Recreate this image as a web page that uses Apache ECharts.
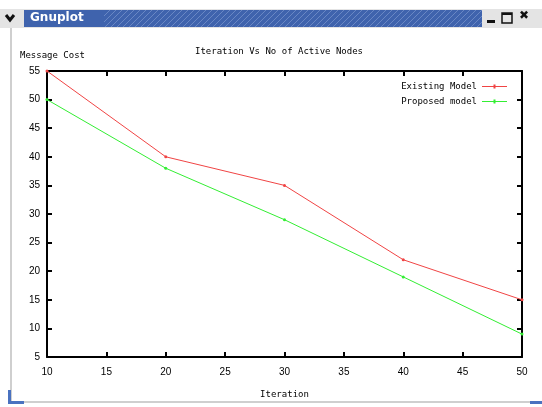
<!DOCTYPE html>
<html>
<head>
<meta charset="utf-8">
<script src="https://cdn.jsdelivr.net/npm/echarts@6/dist/echarts.min.js"></script>
<style>
html,body{margin:0;padding:0;background:#fff;}
#c{width:542px;height:407px;}
</style>
</head>
<body>
<div id="c"></div>
<script>
const iterations = [10, 20, 30, 40, 50];
const existingModel = [55, 40, 35, 22, 15];
const proposedModel = [50, 38, 29, 19, 9];
const titleText = 'Iteration Vs No of Active Nodes';
const xName = 'Iteration';
const yName = 'Message Cost';

// hatch pattern for the window title bar
const pc = document.createElement('canvas');
pc.width = 6; pc.height = 18;
const g = pc.getContext('2d');
g.fillStyle = '#3f63ad'; g.fillRect(0,0,6,18);
g.strokeStyle = 'rgba(140,165,215,0.55)'; g.lineWidth = 1;
for (let k=-18;k<24;k+=6){ g.beginPath(); g.moveTo(k,18); g.lineTo(k+18,0); g.stroke(); }

const chart = echarts.init(document.getElementById('c'));
const mono = 'DejaVu Sans Mono';
const axisLine = {show:true, lineStyle:{color:'#000', width:2}};
const ticks = {show:true, inside:true, length:5, lineStyle:{color:'#000', width:2}};
const legendIcon = 'path://M0,4L25,4L25,5L0,5Z M11.5,2.5L13.5,2.5L13.5,6.5L11.5,6.5Z';
chart.setOption({
  animation:false,
  backgroundColor:'#fff',
  title:{text:titleText, left:274, top:42, textAlign:'center',
    textStyle:{fontFamily:mono, fontSize:9, fontWeight:'normal', color:'#000'}},
  legend:{right:30, top:77, orient:'vertical', align:'right', itemWidth:25, itemHeight:8, itemGap:6,
    icon:legendIcon,
    textStyle:{fontFamily:mono, fontSize:9, color:'#000'},
    data:['Existing Model','Proposed model']},
  grid:{left:47, right:20, top:71, bottom:50},
  xAxis:[{type:'value', min:10, max:50, interval:5, position:'bottom',
    name:xName, nameLocation:'middle', nameGap:33,
    nameTextStyle:{fontFamily:mono, fontSize:9, color:'#000'},
    axisLine:axisLine, axisTick:ticks, splitLine:{show:false},
    axisLabel:{fontFamily:'Liberation Sans', fontSize:10, color:'#000', margin:10}},
    {type:'value', min:10, max:50, interval:5, position:'top',
    axisLine:axisLine, axisTick:ticks, splitLine:{show:false}, axisLabel:{show:false}}],
  yAxis:[{type:'value', min:5, max:55, interval:5, position:'left',
    axisLine:axisLine, axisTick:ticks, splitLine:{show:false},
    axisLabel:{fontFamily:'Liberation Sans', fontSize:10, color:'#000', margin:7}},
    {type:'value', min:5, max:55, interval:5, position:'right',
    axisLine:axisLine, axisTick:ticks, splitLine:{show:false}, axisLabel:{show:false}}],
  series:[
    {name:'Existing Model', type:'line', data:iterations.map((x,i)=>[x,existingModel[i]]),
      symbol:'circle', symbolSize:3, itemStyle:{color:'#f04444'}, lineStyle:{width:1, color:'#f04444'}},
    {name:'Proposed model', type:'line', data:iterations.map((x,i)=>[x,proposedModel[i]]),
      symbol:'circle', symbolSize:3, itemStyle:{color:'#33ee33'}, lineStyle:{width:1, color:'#33ee33'}}
  ],
  graphic:[
    {type:'text', left:20, top:51, style:{text:yName, font:'9px "DejaVu Sans Mono"', fill:'#000'}},
    // window chrome
    {type:'rect', shape:{x:0,y:9,width:542,height:19}, style:{fill:'#e4e4e4'}, silent:true},
    {type:'rect', shape:{x:24,y:10,width:458,height:17}, style:{fill:{image:pc, repeat:'repeat'}}, silent:true},
    {type:'rect', shape:{x:24,y:10,width:80,height:17}, style:{fill:'#3f63ad'}, silent:true},
    {type:'text', x:30, y:12, style:{text:'Gnuplot', font:'bold 12px "DejaVu Sans"', fill:'#fff'}},
    {type:'polyline', shape:{points:[[6,15],[10,20],[14,15]]}, style:{stroke:'#111', lineWidth:3, fill:null}},
    {type:'rect', shape:{x:487,y:20,width:8,height:3}, style:{fill:'#111'}},
    {type:'rect', shape:{x:502,y:13,width:10,height:10}, style:{fill:null, stroke:'#111', lineWidth:1.5}},
    {type:'rect', shape:{x:502,y:13,width:10,height:2}, style:{fill:'#111'}},
    {type:'text', x:519, y:10, style:{text:'✖', font:'bold 12px "DejaVu Sans"', fill:'#111'}},
    {type:'rect', shape:{x:10,y:28,width:2,height:374}, style:{fill:'#cfcfcf'}},
    {type:'rect', shape:{x:10,y:401,width:532,height:2}, style:{fill:'#cfcfcf'}},
    {type:'rect', shape:{x:8,y:390,width:3,height:14}, style:{fill:'#4a72c0'}},
    {type:'rect', shape:{x:8,y:401,width:16,height:3}, style:{fill:'#4a72c0'}},
    {type:'rect', shape:{x:530,y:401,width:12,height:3}, style:{fill:'#4a72c0'}}
  ]
});
</script>
</body>
</html>
